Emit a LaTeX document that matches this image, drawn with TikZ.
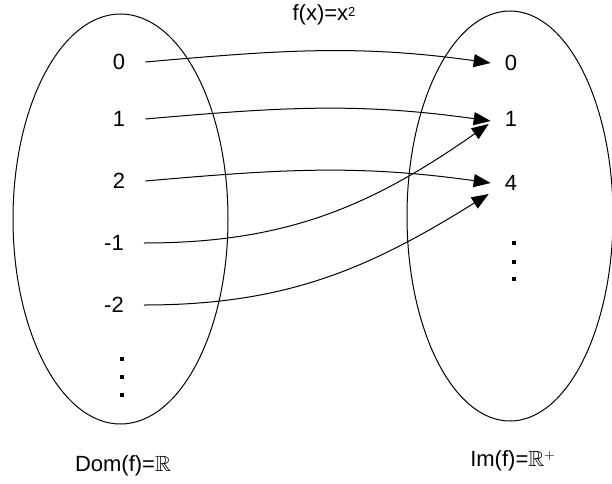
\documentclass[tikz,border=0pt]{standalone}
\usepackage{fontspec}
\setmainfont{Liberation Sans}
\usepackage{amssymb}
\usetikzlibrary{arrows.meta,positioning}

\tikzset{
  setring/.style={draw,line width=1pt},
  elem/.style={font=\fontsize{22}{26}\selectfont,inner sep=1pt},
  setname/.style={font=\fontsize{22}{26}\selectfont,inner sep=1pt},
  mapsto/.style={line width=1pt,-{Triangle[length=17pt,width=13pt]}}
}

\begin{document}
\begin{tikzpicture}[x=1pt,y=1pt]
  \useasboundingbox (0,0) rectangle (612,483);

  % The two sets
  \draw[setring] (120.5,264) ellipse [x radius=107.5, y radius=205];
  \draw[setring] (510,267) ellipse [x radius=103, y radius=205];

  % Domain elements
  \node[elem] (d0) at (119,421) {0};
  \node[elem] (d1) at (119,364) {1};
  \node[elem] (d2) at (119,302) {2};
  \node[elem] (dm1) at (114,240) {-1};
  \node[elem] (dm2) at (114,178) {-2};
  \foreach \y in {126,108,90}
    \fill (120,\y) rectangle ++(4,-4);

  % Image elements
  \node[elem] (i0) at (511,420) {0};
  \node[elem] (i1) at (511,364) {1};
  \node[elem] (i4) at (511,300) {4};
  \foreach \y in {242,223,206}
    \fill (512,\y) rectangle ++(4,-4);

  % Set names
  \node[setname] (dom) at (123,17) {Dom(f)=$\mathbb{R}$};
  \node[setname] (img) at (513,22) {Im(f)=$\mathbb{R}^{+}$};
  \node[elem] (fx) at (324,468) {f(x)=x\raisebox{4pt}{\fontsize{13}{13}\selectfont 2}};

  % Mapping x -> x^2
  \draw[mapsto] ([xshift=19pt]d0.east) to[out=5,in=172] ([xshift=-13pt]i0.west);
  \draw[mapsto] ([xshift=19pt]d1.east) to[out=5,in=172] ([xshift=-13pt,yshift=-2pt]i1.west);
  \draw[mapsto] ([xshift=19pt]d2.east) to[out=5,in=172] ([xshift=-13pt]i4.west);
  \draw[mapsto] ([xshift=19pt]dm1.east) to[out=0,in=215] ([xshift=-15pt,yshift=-5pt]i1.west);
  \draw[mapsto] ([xshift=19pt]dm2.east) to[out=0,in=212] ([xshift=-15pt,yshift=-11pt]i4.west);
\end{tikzpicture}
\end{document}
